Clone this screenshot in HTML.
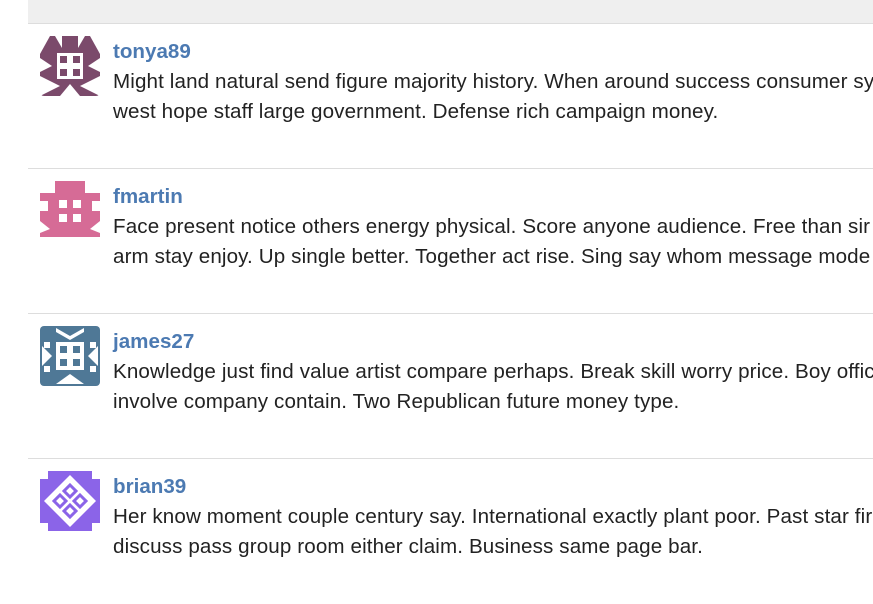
<!DOCTYPE html>
<html><head><meta charset="utf-8"><style>
body{margin:0;width:873px;height:594px;overflow:hidden;background:#fff;font-family:"Liberation Sans",Arial,sans-serif;position:relative}
.top{position:absolute;left:28px;top:0;width:845px;height:23px;background:#efefef;border-bottom:1px solid #ddd}
.c{position:absolute;left:28px;width:845px;height:145px;border-top:1px solid #ddd;overflow:hidden}
.av{position:absolute;left:12px;top:12px;width:60px;height:60px}
.u{position:absolute;left:85px;top:16px;font-weight:bold;font-size:20.6px;color:#4c7ab2;white-space:nowrap}
.t{position:absolute;left:85px;top:43px;font-size:20.6px;line-height:30px;color:#222;white-space:nowrap;letter-spacing:0.12px}
</style></head><body>
<div class="top"></div>

<div class="c" style="top:23px">
<svg class="av" viewBox="0 0 60 60"><rect width="60" height="60" rx="4" fill="#7b4a6b"/><g fill="#fff"><polygon points="0,0 10,0 0,18"/><polygon points="60,0 50,0 60,18"/><polygon points="15,0 22,0 22,12"/><polygon points="45,0 38,0 38,12"/><rect x="17" y="17" width="26" height="26"/><polygon points="0,40 20,50 0,60"/><polygon points="60,40 40,50 60,60"/><polygon points="20,60 30,48 40,60"/><polygon points="0,22 12,30 0,36"/><polygon points="60,22 48,30 60,36"/></g><g fill="#7b4a6b"><rect x="20" y="20" width="7" height="7"/><rect x="33" y="20" width="7" height="7"/><rect x="20" y="33" width="7" height="7"/><rect x="33" y="33" width="7" height="7"/></g></svg>
<div class="u">tonya89</div>
<div class="t">Might land natural send figure majority history. When around success consumer sy<br>west hope staff large government. Defense rich campaign money.</div>
</div>

<div class="c" style="top:168px">
<svg class="av" viewBox="0 0 60 60"><rect width="60" height="60" rx="4" fill="#d66b96"/><g fill="#fff"><rect x="0" y="0" width="15" height="12"/><rect x="45" y="0" width="15" height="12"/><rect x="0" y="20" width="8" height="10"/><rect x="52" y="20" width="8" height="10"/><polygon points="0,40 10,48 0,52"/><polygon points="60,40 50,48 60,52"/><rect x="0" y="56" width="60" height="4"/><rect x="19" y="19" width="8" height="8"/><rect x="33" y="19" width="8" height="8"/><rect x="19" y="33" width="8" height="8"/><rect x="33" y="33" width="8" height="8"/></g></svg>
<div class="u">fmartin</div>
<div class="t">Face present notice others energy physical. Score anyone audience. Free than sir<br>arm stay enjoy. Up single better. Together act rise. Sing say whom message mode</div>
</div>

<div class="c" style="top:313px">
<svg class="av" viewBox="0 0 60 60"><rect width="60" height="60" rx="4" fill="#4f7896"/><g fill="#fff"><rect x="16" y="16" width="28" height="28"/><polygon points="16,2 30,10 44,2 44,6 30,14 16,6"/><polygon points="16,58 30,48 44,58"/><rect x="4" y="16" width="6" height="6"/><rect x="50" y="16" width="6" height="6"/><rect x="4" y="40" width="6" height="6"/><rect x="50" y="40" width="6" height="6"/><polygon points="2,20 12,30 2,40"/><polygon points="58,20 48,30 58,40"/></g><g fill="#4f7896"><rect x="20" y="20" width="7" height="7"/><rect x="33" y="20" width="7" height="7"/><rect x="20" y="33" width="7" height="7"/><rect x="33" y="33" width="7" height="7"/></g></svg>
<div class="u">james27</div>
<div class="t">Knowledge just find value artist compare perhaps. Break skill worry price. Boy offic<br>involve company contain. Two Republican future money type.</div>
</div>

<div class="c" style="top:458px">
<svg class="av" viewBox="0 0 60 60"><rect width="60" height="60" rx="4" fill="#8b64e8"/><g fill="#fff"><polygon points="30,4 56,30 30,56 4,30"/><rect x="0" y="0" width="8" height="8"/><rect x="52" y="0" width="8" height="8"/><rect x="0" y="52" width="8" height="8"/><rect x="52" y="52" width="8" height="8"/></g><g fill="none" stroke="#8b64e8" stroke-width="3"><polygon points="30,14 36,20 30,26 24,20"/><polygon points="30,34 36,40 30,46 24,40"/><polygon points="20,24 26,30 20,36 14,30"/><polygon points="40,24 46,30 40,36 34,30"/></g></svg>
<div class="u">brian39</div>
<div class="t">Her know moment couple century say. International exactly plant poor. Past star fir<br>discuss pass group room either claim. Business same page bar.</div>
</div>
</body></html>
